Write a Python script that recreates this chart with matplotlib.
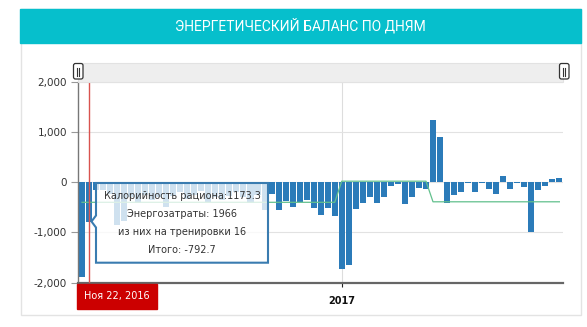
import matplotlib.pyplot as plt
from matplotlib.patches import Rectangle, FancyBboxPatch, Polygon

# daily energy balance, kcal (one bar per day)
balance = [-1880, -790, -150, -160, -230, -860, -770, -300, -420, -250,
           -350, -300, -500, -280, -200, -330, -250, -180, -400, -300,
           -350, -280, -200, -300, -420, -250, -560, -240, -550, -375,
           -485, -385, -350, -505, -650, -505, -675, -1720, -1655, -535,
           -405, -300, -405, -300, -75, -35, -425, -300, -120, -135,
           1240, 905, -410, -245, -190, -20, -190, -25, -145, -225,
           120, -135, -20, -95, -990, -150, -70, 55, 75]
# target balance (green line)
target = [-400, -400, -400, -400, -400, -400, -400, -400, -400, -400,
          -400, -400, -400, -400, -400, -400, -400, -400, -400, -400,
          -400, -400, -400, -400, -400, -400, -400, -400, -400, -400,
          -400, -400, -400, -400, -400, -400, -400, 20, 20, 20,
          20, 20, 20, 20, 20, 20, 20, 20, 20, 20,
          -390, -390, -390, -390, -390, -390, -390, -390, -390, -390,
          -390, -390, -390, -390, -390, -390, -390, -390, -390]
x_labels = {37: '2017'}
y_ticks = [-2000, -1000, 0, 1000, 2000]

title = 'ЭНЕРГЕТИЧЕСКИЙ БАЛАНС ПО ДНЯМ'
selected = 1
selected_date = 'Ноя 22, 2016'
tooltip = ['Калорийность рациона:1173.3', 'Энергозатраты: 1966',
           'из них на тренировки 16', 'Итого: -792.7']

W, H = 587, 327
fig = plt.figure(figsize=(W / 100, H / 100), dpi=100)

# main chart
ax = fig.add_axes([78 / W, 1 - 282.7 / H, (563.3 - 78) / W, (282.7 - 81.7) / H], zorder=1)
xs = range(len(balance))
ax.bar(xs, balance, width=0.86, color='#2b7bb9', zorder=2)
ax.plot(range(len(target)), target, color='#62c08d', lw=0.9, zorder=3)
ax.set_xlim(-0.57, len(balance) - 0.44)
ax.set_ylim(-2000, 2000)
ax.set_yticks(y_ticks)
ax.set_yticklabels([f'{v:,}' for v in y_ticks], fontsize=7.5, color='#333333')
ax.set_xticks(list(x_labels))
ax.set_xticklabels(list(x_labels.values()), fontsize=7, fontweight='bold', color='#111111')
ax.tick_params(axis='y', length=5, width=0.8, color='#999999', pad=3)
ax.tick_params(axis='x', length=3, width=0.8, color='#222222', pad=6.5)
ax.grid(axis='y', color='#e2e2e2', lw=0.8, zorder=0)
ax.axvline(37, color='#dddddd', lw=0.8, zorder=0)
ax.axvline(selected - 0.07, color='#d9534f', lw=1, zorder=4)
for s in ['top', 'right']:
    ax.spines[s].set_visible(False)
ax.spines['left'].set_color('#777777')
ax.spines['left'].set_linewidth(1)
ax.spines['bottom'].set_color('#666666')
ax.spines['bottom'].set_linewidth(1.6)

# overlay in pixel coordinates: frame, header, scrollbar, tooltip
ov = fig.add_axes([0, 0, 1, 1], zorder=3)
ov.set_xlim(0, W)
ov.set_ylim(H, 0)
ov.axis('off')
ov.patch.set_alpha(0)

ov.add_patch(Rectangle((20.5, 9), 560.5, 306, fill=False, ec='#e3e3e3', lw=1))
ov.add_patch(Rectangle((20, 9), 561, 34, color='#06bfcc'))
ov.text(300, 26, title, color='white', fontsize=10, ha='center', va='center',
        family=['Roboto', 'DejaVu Sans'])

ov.add_patch(Rectangle((78, 62.5), 485, 19.2, fc='#eeeeee', ec='#e2e2e2', lw=0.8))
for gx in [73.5, 559.5]:
    ov.add_patch(FancyBboxPatch((gx, 63.5), 9.5, 15.5, boxstyle='round,pad=0,rounding_size=2',
                                fc='white', ec='#333333', lw=0.9))
    ov.plot([gx + 3.7, gx + 3.7], [67.5, 75.5], color='#333333', lw=0.8)
    ov.plot([gx + 5.9, gx + 5.9], [67.5, 75.5], color='#333333', lw=0.8)

tip = Polygon([(96, 183), (268, 183), (268, 262.7), (96, 262.7), (96, 227.5),
               (91.5, 221.5), (96, 215.5)], closed=True,
              fc=(1, 1, 1, 0.78), ec='#3a7cb0', lw=1.5)
ov.add_patch(tip)
for i, line in enumerate(tooltip):
    ov.text(182, 195.7 + 18 * i, line, fontsize=7, color='#333333', ha='center', va='center')

ov.add_patch(Rectangle((77, 283.5), 80, 25, color='#cc0000'))
ov.text(117, 296, selected_date, fontsize=7, color='white', ha='center', va='center')

fig.savefig('out.png', dpi=100)
